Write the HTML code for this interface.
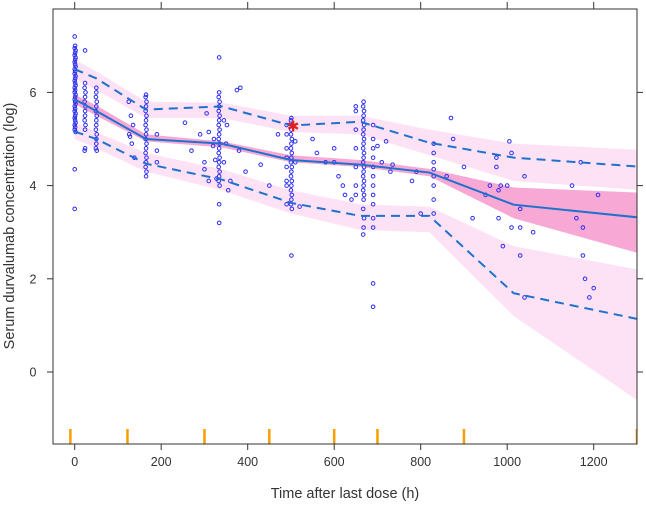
<!DOCTYPE html>
<html><head><meta charset="utf-8"><style>
body{margin:0;background:#fff;}
svg{display:block;font-family:"Liberation Sans",Arial,sans-serif;}
</style></head><body>
<svg id="c" width="646" height="505"></svg>
<script>
const binT=[0,50,165,340,500,660,820,1015,1300];
const medObs=[5.85,5.6,5.0,4.9,4.55,4.45,4.28,3.59,3.32];
const upObs=[6.5,6.3,5.63,5.7,5.29,5.37,4.92,4.6,4.41];
const loObs=[5.16,5.0,4.47,4.13,3.63,3.35,3.35,1.69,1.14];
const upBandHi=[6.7,6.45,5.8,5.78,5.5,5.5,5.2,4.9,4.77];
const upBandLo=[6.3,6.05,5.45,5.45,5.15,5.1,4.65,4.1,3.91];
const medBandHi=[5.95,5.72,5.1,4.95,4.65,4.55,4.36,3.96,3.85];
const medBandLo=[5.75,5.5,4.95,4.82,4.5,4.4,4.2,3.3,2.56];
const loBandHi=[5.35,5.15,4.7,4.35,3.9,3.6,3.55,2.7,2.2];
const loBandLo=[5.0,4.8,4.3,3.9,3.4,3.05,3.0,1.2,-0.6];
const rugT=[-10,122,300,450,600,700,900,1300];
const xTicks=[0,200,400,600,800,1000,1200];
const yTicks=[0,2,4,6];
const obsT=[
0,1,0,2,1,0,2,1,0,1,2,0,1,0,2,1,0,1,2,0,1,0,2,1,0,1,2,0,1,0,2,1,0,1,2,0,1,0,2,0,0,
24,24,23,25,24,23,25,24,24,23,25,24,24,23,
50,50,49,51,50,49,51,50,50,49,51,50,50,49,51,
125,130,135,128,132,138,126,
165,164,166,165,164,166,165,164,166,165,164,166,165,164,166,165,164,166,165,
190,190,190,
255,270,290,300,300,305,310,310,320,322,325,328,
334,334,333,335,334,333,335,334,333,335,334,333,335,334,333,335,334,333,335,334,333,335,334,334,
345,345,350,352,355,360,375,383,380,395,430,450,470,
490,490,490,490,490,490,490,490,
501,500,502,501,500,502,501,500,502,501,500,502,501,500,502,501,500,502,501,500,502,501,
510,510,520,550,560,580,600,600,610,620,625,640,
650,650,650,650,650,650,650,
668,667,669,668,667,669,668,667,669,668,667,669,668,667,669,668,667,669,668,667,669,668,667,669,668,667,
690,690,690,690,690,690,690,690,690,690,690,690,690,
700,710,720,730,735,780,790,800,
830,830,830,830,830,830,830,830,
860,870,875,900,920,950,960,975,975,980,980,985,990,1000,1005,1010,1010,1030,1030,1030,1040,1040,1060,1150,1160,1170,1175,1175,1180,1190,1200,1210];
const obsV=[
7.2,7.0,6.95,6.9,6.85,6.8,6.75,6.7,6.65,6.6,6.55,6.5,6.45,6.4,6.35,6.3,6.25,6.2,6.15,6.1,6.05,6.0,5.95,5.9,5.85,5.8,5.75,5.7,5.65,5.6,5.55,5.5,5.45,5.4,5.35,5.3,5.25,5.2,5.15,4.35,3.5,
6.9,6.2,6.1,6.0,5.9,5.8,5.7,5.6,5.5,5.4,5.3,5.2,4.8,4.75,
6.1,6.0,5.9,5.8,5.7,5.6,5.5,5.4,5.3,5.2,5.1,5.0,4.9,4.8,4.75,
5.8,5.5,5.3,5.05,4.9,4.6,5.1,
5.95,5.9,5.8,5.7,5.6,5.5,5.4,5.3,5.2,5.1,5.0,4.9,4.8,4.7,4.6,4.5,4.4,4.3,4.2,
5.1,4.75,4.5,
5.35,4.75,5.1,4.5,4.35,5.55,5.15,4.1,4.85,5.0,4.55,4.15,
6.75,6.0,5.9,5.8,5.7,5.6,5.5,5.4,5.3,5.2,5.1,5.0,4.9,4.8,4.7,4.6,4.5,4.4,4.3,4.2,4.1,4.0,3.6,3.2,
5.4,4.5,4.9,5.3,3.9,4.1,6.05,6.1,4.75,4.3,4.45,4.0,5.1,
5.3,5.1,4.8,4.6,4.4,4.1,4.0,3.6,
5.45,5.4,5.3,5.2,5.1,5.0,4.9,4.8,4.7,4.6,4.5,4.4,4.3,4.2,4.1,4.0,3.9,3.8,3.7,3.6,3.5,2.5,
4.95,4.5,3.55,5.0,4.7,4.5,4.8,4.5,4.2,4.0,3.8,3.7,
5.7,5.6,5.2,4.8,4.4,4.0,3.8,
5.8,5.7,5.6,5.5,5.4,5.3,5.2,5.1,5.0,4.9,4.8,4.7,4.6,4.5,4.4,4.3,4.2,4.1,4.0,3.9,3.8,3.7,3.5,3.3,3.1,2.95,
5.3,5.0,4.8,4.6,4.4,4.2,4.0,3.8,3.6,3.3,3.1,1.9,1.4,
4.85,4.5,4.95,4.3,4.45,4.1,4.3,3.4,
4.9,4.7,4.5,4.35,4.2,4.0,3.7,3.4,
4.2,5.45,5.0,4.4,3.3,3.8,4.0,4.6,4.4,3.9,3.3,4.0,2.7,4.0,4.95,4.7,3.1,3.1,3.5,2.5,4.2,1.6,3.0,4.0,3.3,4.5,3.1,2.5,2.0,1.6,1.8,3.8];
const starT=[505], starV=[5.27];

const NS='http://www.w3.org/2000/svg';
const svg=document.getElementById('c');
const L=53,R=637,T=9,B=444;
const X=t=>74.7+t*0.4325;
const Y=v=>372-v*46.6;
function el(tag,attrs,parent){const e=document.createElementNS(NS,tag);for(const k in attrs)e.setAttribute(k,attrs[k]);(parent||svg).appendChild(e);return e;}
const clip=el('clipPath',{id:'pc'});el('rect',{x:L,y:T,width:R-L,height:B-T},clip);
const g=el('g',{'clip-path':'url(#pc)'});


function band(hi,lo,fill,name){
  let d='M'+binT.map((t,i)=>X(t)+','+Y(hi[i])).join('L');
  for(let i=binT.length-1;i>=0;i--)d+='L'+X(binT[i])+','+Y(lo[i]);
  const p=el('path',{d:d+'Z',fill:fill},g);
  
  
}
band(upBandHi,upBandLo,'#fde2f6','upper-pi-band');
band(loBandHi,loBandLo,'#fde2f6','lower-pi-band');
band(medBandHi,medBandLo,'#f7a8d4','median-pi-band');
// points
for(let i=0;i<obsT.length;i++){
  const c=el('circle',{cx:X(obsT[i]),cy:Y(obsV[i]),r:1.8,fill:'none',stroke:'#2d2df0','stroke-width':1},g);
  
  
}
function line(vals,dash,name){
  const p=el('polyline',{points:binT.map((t,i)=>X(t)+','+Y(vals[i])).join(' '),fill:'none',stroke:'#1f72cc','stroke-width':2},g);
  if(dash)p.setAttribute('stroke-dasharray','9,6');
  
  
}
line(upObs,true,'upper-percentile-line');
line(loObs,true,'lower-percentile-line');
line(medObs,false,'median-line');
for(let i=0;i<starT.length;i++){
  const s=el('text',{x:X(starT[i]),y:Y(starV[i])+5,'text-anchor':'middle','font-size':15,fill:'#e02020'},g);
  s.textContent='✱';
  
  
}
for(const t of rugT){
  const r=el('line',{x1:X(t),x2:X(t),y1:B-15,y2:B,stroke:'#f5a000','stroke-width':2.5},g);
  
  
}
// frame
const f=el('rect',{x:L,y:T,width:R-L,height:B-T,fill:'none',stroke:'#333','stroke-width':1});


for(const t of xTicks){
  el('line',{x1:X(t),x2:X(t),y1:B,y2:B+6,stroke:'#333'});
  el('line',{x1:X(t),x2:X(t),y1:T,y2:T-7,stroke:'#333'});
  const tx=el('text',{x:X(t),y:B+22,'text-anchor':'middle','font-size':12.5,fill:'#333'});
  tx.textContent=t;
  
  
}
for(const v of yTicks){
  el('line',{x1:L,x2:L-6,y1:Y(v),y2:Y(v),stroke:'#333'});
  el('line',{x1:R,x2:R+6,y1:Y(v),y2:Y(v),stroke:'#333'});
  const ty=el('text',{x:33,y:Y(v)+4.5,'text-anchor':'middle','font-size':12.5,fill:'#333'});
  ty.textContent=v;
  
  
}
const xl=el('text',{x:345,y:498,'text-anchor':'middle','font-size':14.5,fill:'#333'});
xl.textContent='Time after last dose (h)';


const yl=el('text',{x:0,y:0,'text-anchor':'middle','font-size':14.5,fill:'#333',transform:'translate(14,226) rotate(-90)'});
yl.textContent='Serum durvalumab concentration (log)';


</script>
</body></html>
